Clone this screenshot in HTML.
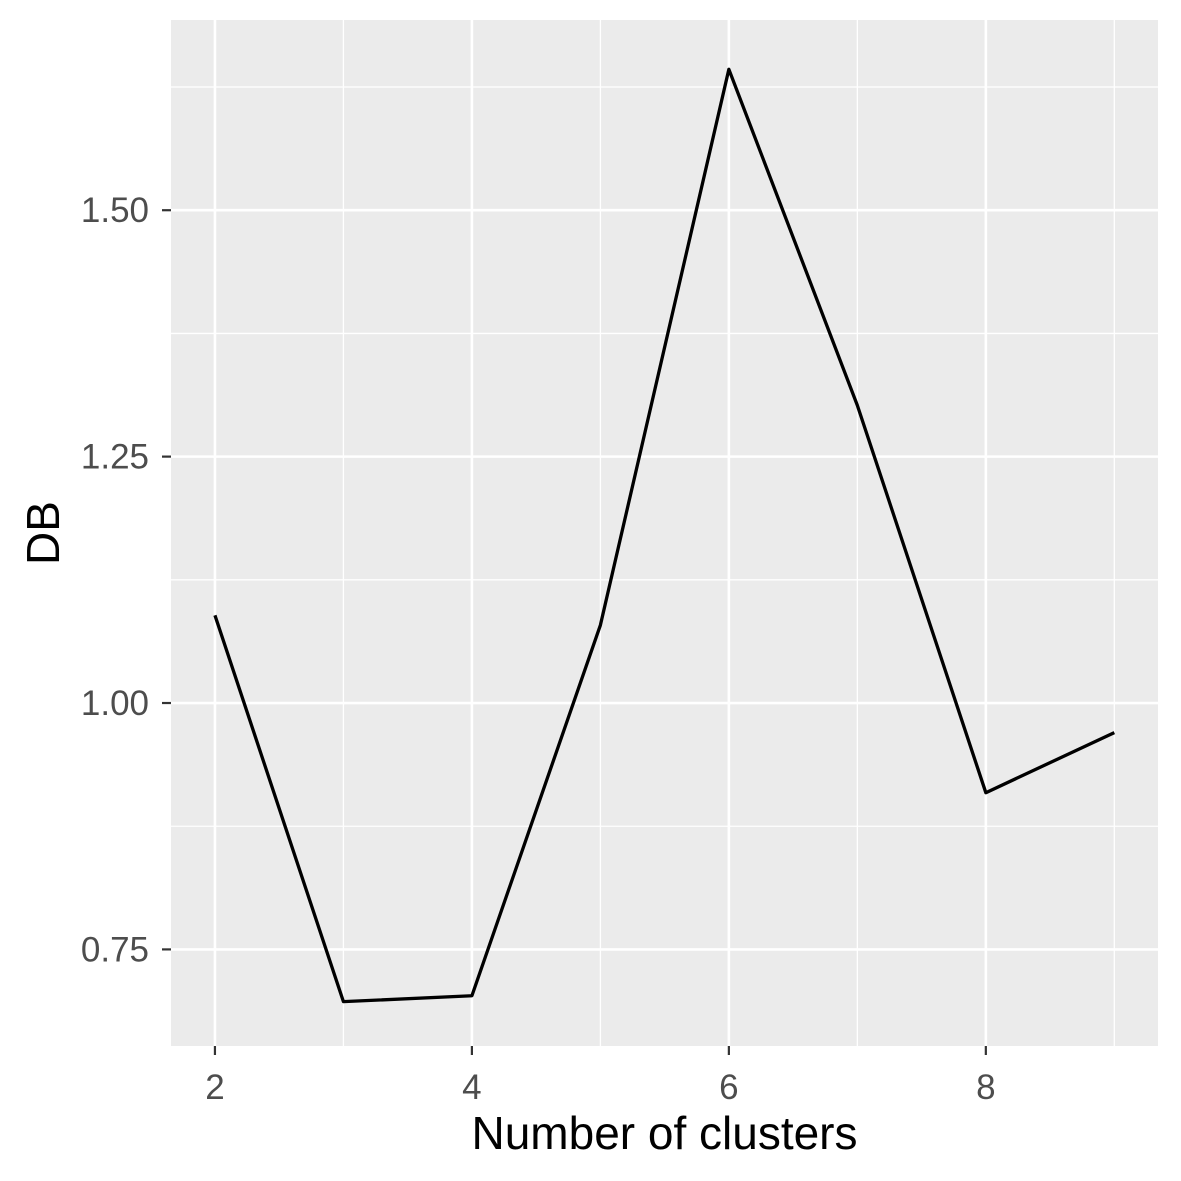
<!DOCTYPE html>
<html><head><meta charset="utf-8"><style>body{margin:0;background:#fff}svg{display:block}</style></head>
<body>
<svg id="chart" width="1181" height="1181" xmlns="http://www.w3.org/2000/svg" font-family="Liberation Sans, sans-serif"></svg>
<script>
const clusters = [2,3,4,5,6,7,8,9];
const dbValues = [1.089,0.697,0.703,1.079,1.643,1.302,0.909,0.970];
const xTicks = [2,4,6,8];
const xMinor = [3,5,7,9];
const yTicks = [0.75,1.00,1.25,1.50];
const yTickLabels = ["0.75","1.00","1.25","1.50"];
const yMinor = [0.875,1.125,1.375,1.625];

const L=171,R=1158,T=20,B=1046;
const xd=[1.658,9.34], yd=[0.652,1.693];
const sx=v=>L+(v-xd[0])/(xd[1]-xd[0])*(R-L);
const sy=v=>B-(v-yd[0])/(yd[1]-yd[0])*(B-T);
const svg=document.getElementById('chart');
const NS='http://www.w3.org/2000/svg';
function mk(tag,attrs,parent){const e=document.createElementNS(NS,tag);for(const k in attrs)e.setAttribute(k,attrs[k]);(parent||svg).appendChild(e);return e;}

const bg=mk('rect',{x:L,y:T,width:R-L,height:B-T,fill:'#ebebeb'});



yMinor.forEach(v=>{const l=mk('line',{x1:L,x2:R,y1:sy(v),y2:sy(v),stroke:'#fff','stroke-width':1.3});

});
xMinor.forEach(v=>{const l=mk('line',{x1:sx(v),x2:sx(v),y1:T,y2:B,stroke:'#fff','stroke-width':1.3});

});
yTicks.forEach((v,i)=>{const l=mk('line',{x1:L,x2:R,y1:sy(v),y2:sy(v),stroke:'#fff','stroke-width':2.6});


const t=mk('line',{x1:L-9,x2:L,y1:sy(v),y2:sy(v),stroke:'#333','stroke-width':2.2});


const tx=mk('text',{x:L-22,y:sy(v)+12,'text-anchor':'end','font-size':35,fill:'#4d4d4d'});
tx.textContent=yTickLabels[i];

});
xTicks.forEach(v=>{const l=mk('line',{x1:sx(v),x2:sx(v),y1:T,y2:B,stroke:'#fff','stroke-width':2.6});


const t=mk('line',{x1:sx(v),x2:sx(v),y1:B,y2:B+9,stroke:'#333','stroke-width':2.2});


const tx=mk('text',{x:sx(v),y:B+53,'text-anchor':'middle','font-size':35,fill:'#4d4d4d'});
tx.textContent=String(v);

});

const line=mk('polyline',{points:clusters.map((c,i)=>sx(c)+','+sy(dbValues[i])).join(' '),fill:'none',stroke:'#000','stroke-width':3.3,'stroke-linejoin':'round'});



const xt=mk('text',{x:(L+R)/2,y:1149,'text-anchor':'middle','font-size':46,fill:'#000'});
xt.textContent='Number of clusters';


const yt=mk('text',{x:0,y:0,'text-anchor':'middle','font-size':46,fill:'#000',transform:`translate(59,${(T+B)/2}) rotate(-90)`});
yt.textContent='DB';


</script>
</body></html>
